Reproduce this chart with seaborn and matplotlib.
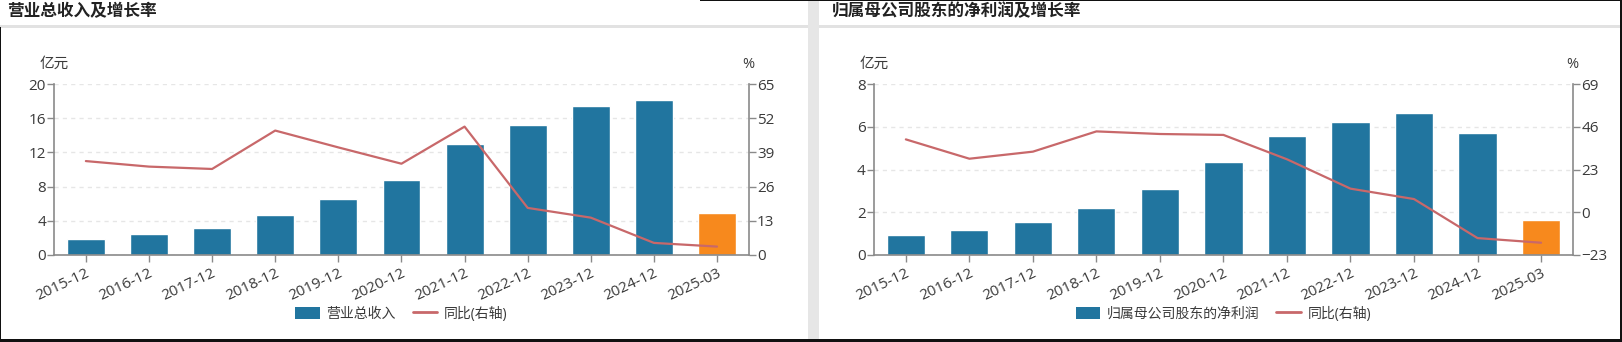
import numpy as np
import pandas as pd
import matplotlib
matplotlib.use("Agg")
import matplotlib.pyplot as plt
from matplotlib.patches import Patch, Rectangle
from matplotlib.lines import Line2D
import seaborn as sns

# ---- data ----
periods = ["2015-12", "2016-12", "2017-12", "2018-12", "2019-12", "2020-12",
           "2021-12", "2022-12", "2023-12", "2024-12", "2025-03"]

revenue = [1.83, 2.42, 3.16, 4.64, 6.51, 8.73, 12.94, 15.24, 17.39, 18.13, 4.87]
revenue_yoy = [35.7, 33.6, 32.7, 47.3, 40.9, 34.7, 48.8, 17.9, 14.2, 4.6, 3.2]

net_profit = [0.92, 1.17, 1.54, 2.18, 3.09, 4.34, 5.55, 6.22, 6.66, 5.73, 1.62]
net_profit_yoy = [39.2, 28.8, 32.6, 43.5, 42.1, 41.6, 28.5, 12.7, 7.1, -13.9, -16.4]

rev_left_ticks = [0, 4, 8, 12, 16, 20]
rev_right_ticks = [0, 13, 26, 39, 52, 65]
np_left_ticks = [0, 2, 4, 6, 8]
np_right_ticks = [-23, 0, 23, 46, 69]

titles = ["营业总收入及增长率", "归属母公司股东的净利润及增长率"]
bar_names = ["营业总收入", "归属母公司股东的净利润"]
line_name = "同比(右轴)"

# ---- style ----
BLUE = "#21759f"
ORANGE = "#f7891d"
RED = "#c8686a"
AXIS = "#8a8a8a"
TEXT = "#3a3a3a"
GRID = "#e6e6e6"

sns.set_theme(style="white")
plt.rcParams["font.family"] = ["Open Sans", "Noto Sans CJK SC", "DejaVu Sans"]

W, H = 1622, 342
fig = plt.figure(figsize=(W / 100, H / 100), dpi=100)
fig.patch.set_facecolor("white")


def px_rect(x0, y0, x1, y1):
    """Figure-fraction rect from pixel coords (top-left origin)."""
    return [x0 / W, 1 - y1 / H, (x1 - x0) / W, (y1 - y0) / H]


def draw_panel(ax_rect, bars, yoy, lticks, rticks, bar_label, title, title_x):
    ax = fig.add_axes(px_rect(*ax_rect))
    colors = [BLUE] * (len(periods) - 1) + [ORANGE]
    df = pd.DataFrame({"period": periods, "value": bars})
    sns.barplot(data=df, x="period", y="value", hue="period", palette=colors,
                legend=False, width=0.6, saturation=1, ax=ax, zorder=2)
    ax.set_xlim(-0.5, len(periods) - 0.5)
    ax.set_ylim(lticks[0], lticks[-1])
    ax.set_yticks(lticks)
    ax.set_xlabel("")
    ax.set_ylabel("")
    ax.set_axisbelow(True)
    ax.yaxis.grid(True, linestyle=(0, (3, 3)), color=GRID, linewidth=1)
    ax.xaxis.grid(False)
    for s in ["top", "right"]:
        ax.spines[s].set_visible(False)
    for s in ["left", "bottom"]:
        ax.spines[s].set_color(AXIS)
        ax.spines[s].set_linewidth(1.2)
    ax.tick_params(axis="y", length=5, width=1, color=AXIS, labelsize=11,
                   labelcolor=TEXT, pad=1, left=True)
    ax.tick_params(axis="x", length=5, width=1, color=AXIS, labelsize=11,
                   labelcolor=TEXT, pad=3, bottom=True)
    ax.set_xticks(range(len(periods)))
    ax.set_xticklabels(periods, rotation=25, ha="right", rotation_mode="anchor")

    ax2 = ax.twinx()
    sns.lineplot(x=np.arange(len(periods)), y=yoy, ax=ax2, color=RED,
                 linewidth=1.6, zorder=3)
    ax2.set_ylim(rticks[0], rticks[-1])
    ax2.set_yticks(rticks)
    ax2.set_ylabel("")
    for s in ["top", "left", "bottom"]:
        ax2.spines[s].set_visible(False)
    ax2.spines["right"].set_color(AXIS)
    ax2.spines["right"].set_linewidth(1.2)
    ax2.tick_params(axis="y", length=5, width=1, color=AXIS, labelsize=11,
                    labelcolor=TEXT, pad=1, right=True)
    ax2.grid(False)

    ax.text(0, 1.115, "亿元", transform=ax.transAxes, ha="center", va="center",
            fontsize=10.5, color=TEXT)
    ax.text(1, 1.115, "%", transform=ax.transAxes, ha="center", va="center",
            fontsize=10.5, color=TEXT)

    handles = [Patch(facecolor=BLUE, edgecolor="none", label=bar_label),
               Line2D([0], [0], color=RED, linewidth=2, label=line_name)]
    leg = ax.legend(handles=handles, loc="center", bbox_to_anchor=(0.5, -0.345),
                    ncol=2, frameon=False, fontsize=10, handlelength=1.75,
                    handleheight=0.95, handletextpad=0.5, columnspacing=1.2)
    for t in leg.get_texts():
        t.set_color(TEXT)

    fig.text(title_x / W, 1 - 11.5 / H, title, ha="left", va="center",
             fontsize=12, fontweight="bold", color="#222222",
             family=["Noto Sans CJK SC", "DejaVu Sans"])


draw_panel((54.3, 84, 748.6, 255), revenue, revenue_yoy, rev_left_ticks,
           rev_right_ticks, bar_names[0], titles[0], 7)
draw_panel((874.1, 84, 1572.8, 255), net_profit, net_profit_yoy, np_left_ticks,
           np_right_ticks, bar_names[1], titles[1], 832)

# panel frames: header separators, gap between panels, outer border
frame = [
    (px_rect(0, 25, 808, 27.5), "#e2e2e2"),
    (px_rect(819, 25, 1622, 27.5), "#e2e2e2"),
    (px_rect(808, 0, 819, 339), "#e6e6e6"),
    (px_rect(0, 27, 1.2, 342), "#111111"),
    (px_rect(1619.5, 0, 1622, 342), "#111111"),
    (px_rect(0, 339, 1622, 342), "#111111"),
    (px_rect(700, 0, 1622, 1.2), "#111111"),
]
for (x, y, w, h), c in frame:
    fig.add_artist(Rectangle((x, y), w, h, transform=fig.transFigure,
                             facecolor=c, edgecolor="none", zorder=0))

fig.savefig("out.png", dpi=100, facecolor="white")
